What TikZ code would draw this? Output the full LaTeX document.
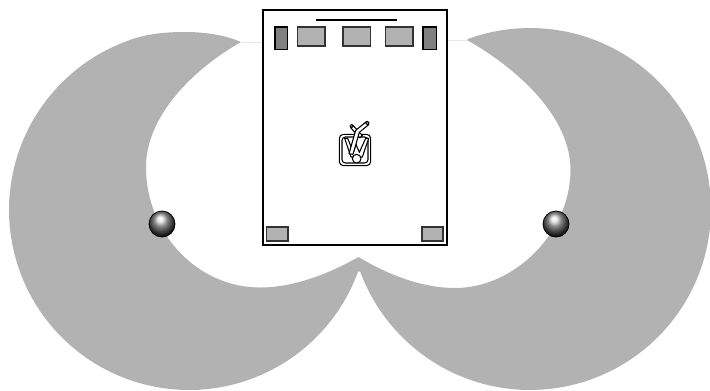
\documentclass[tikz,border=0pt]{standalone}
\usetikzlibrary{calc}
\definecolor{crescent}{HTML}{B2B2B2}
\definecolor{darkspk}{HTML}{808080}
\pgfdeclareradialshading{glossy}{\pgfpoint{-4bp}{11bp}}{
  color(0bp)=(white); color(5bp)=(white!92!black); color(13bp)=(black!50);
  color(22bp)=(black!78); color(30bp)=(black); color(50bp)=(black)}
\tikzset{
  crescentfill/.style={fill=crescent,draw=none},
  faint/.style={draw=black!9,line width=0.6pt},
  room/.style={draw=black,line width=1.5pt,fill=white},
  tallspk/.style={draw=black,line width=1.1pt,fill=darkspk},
  widespk/.style={draw=black!80,line width=1.1pt,fill=crescent},
  iconline/.style={draw=black,line width=0.8pt,fill=white,line join=round},
  sphere/.style={shading=glossy,draw=black,line width=0.6pt}
}
\begin{document}
\begin{tikzpicture}[x=0.75pt,y=-0.75pt]
\useasboundingbox (0,0) rectangle (710,390);
% faint rays
\draw[faint] (241,42) -- (262,42);
\draw[faint] (447,40) -- (467,40);
% left crescent
\fill[crescentfill] (358.5,257)
  .. controls (330,273) and (295,287.5) .. (260,287.5)
  .. controls (197,287.5) and (146,233) .. (146,167)
  .. controls (146,115) and (195,68) .. (241,42)
  .. controls (225,35) and (205,32) .. (185,32)
  .. controls (165,32) and (145,34) .. (127,41)
  -- plot[domain=250:20,samples=80] ({189+180*cos(\x)},{210+180*sin(\x)})
  -- (361,268) -- (360,262) -- cycle;
% right crescent
\fill[crescentfill] (358.5,257)
  .. controls (385,273) and (420,288) .. (455,288)
  .. controls (515,288) and (570.5,232) .. (570.5,170)
  .. controls (570.5,118) and (520,70) .. (467,40)
  -- plot[domain=-110:159.9,samples=100] ({530+181*cos(\x)},{209+181*sin(\x)})
  -- (359,272) -- cycle;
% room
\draw[room] (263,10) rectangle (447,245);
\draw[black,line width=1.9pt] (316,20) -- (397,20);
\draw[tallspk] (274.8,26.8) rectangle (287.3,49.3);
\draw[tallspk] (423.2,26.8) rectangle (436.3,49.3);
\draw[widespk] (297.3,27) rectangle (325,46);
\draw[widespk] (343,27) rectangle (370.5,46);
\draw[widespk] (385.5,27) rectangle (413,46);
\draw[widespk] (266.5,227) rectangle (288,241);
\draw[widespk] (422,227) rectangle (443,241);
% spheres
\path[sphere] (162,224) circle[radius=13];
\path[sphere] (556,224) circle[radius=13];
% listener icon
\begin{scope}[shift={(325,115)},x=0.25pt,y=-0.25pt]
  \draw[iconline,rounded corners=3pt] (43,58) rectangle (137,152);
  \draw[iconline,rounded corners=2.5pt] (51,66) rectangle (129,144);
  % arms and torso
  \draw[iconline] (59,70) -- (78,126) -- (112,126) -- (131,70) -- (122,70) -- (103,112) -- (93,88) -- (85,112) -- (68,70) -- cycle;
  % crossed sticks
  \draw[iconline] (77,38) -- (84,31) -- (112,62) -- (104,68) -- cycle;
  \draw[iconline] (124,20) -- (131,29) -- (103,52) -- (84,118) -- (72,116) -- (92,46) -- cycle;
  \draw[iconline] (80,33) circle[radius=5];
  \draw[iconline] (127,24) circle[radius=5];
  % head
  \draw[iconline] (95,131) circle[radius=13];
\end{scope}
\end{tikzpicture}
\end{document}
